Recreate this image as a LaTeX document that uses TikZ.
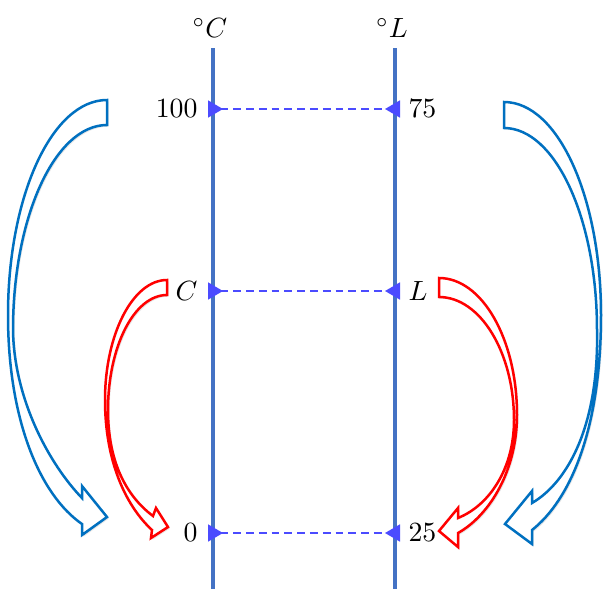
\documentclass[tikz,border=0pt]{standalone}
\usetikzlibrary{arrows.meta,shadows}

\definecolor{axisblue}{RGB}{68,114,196}
\definecolor{rungblue}{RGB}{75,75,255}
\definecolor{bandblue}{RGB}{0,112,192}
\definecolor{bandred}{RGB}{255,0,0}

\begin{document}
\begin{tikzpicture}[
  x=0.36pt, y=-0.36pt,
  axis/.style ={draw=axisblue,line width=1.3pt},
  rung/.style ={draw=rungblue,line width=0.7pt,dash pattern=on 2.8pt off 1.8pt,
                {Triangle[reversed,length=5.4pt,width=6.1pt]}-{Triangle[reversed,length=5.4pt,width=6.1pt]},
                shorten <=-1.8pt,shorten >=-1.8pt},
  val/.style  ={inner sep=2.5pt},
  unit/.style ={inner sep=0pt},
  band/.style ={line width=0.9pt,fill=white,miter limit=4,
                drop shadow={opacity=0.2,shadow xshift=0.6pt,shadow yshift=-0.6pt}},
]
\useasboundingbox (0,0) rectangle (603,589);

% ----------------------------------------------------------- curved block arrows
% outer blue, left: 100 -> 0
\draw[band,draw=bandblue] (107,100) -- (107,125)
  .. controls (55,125) and (13,217) .. (13,330)
  .. controls (14,400) and (50,465) .. (82,498)
  -- (82,486) -- (107,517) -- (82,535) -- (82,524)
  .. controls (40,495) and (8,420) .. (8,315)
  .. controls (8,196) and (52,100) .. (107,100) -- cycle;
% outer blue, right: 75 -> 25
\draw[band,draw=bandblue] (504,102) -- (504,128)
  .. controls (555,128) and (597,218) .. (597,330)
  .. controls (599,425) and (568,482) .. (532,503)
  -- (532,491) -- (505,524) -- (532,544) -- (532,530)
  .. controls (570,500) and (601,430) .. (601,315)
  .. controls (601,197) and (558,102) .. (504,102) -- cycle;
% inner red, left: C -> 0
\draw[band,draw=bandred] (167,280) -- (167,295)
  .. controls (134,295) and (108,347) .. (108,410)
  .. controls (108,460) and (125,495) .. (153,516)
  -- (156,508) -- (168,527) -- (151,538) -- (152,530)
  .. controls (125,505) and (105,460) .. (105,400)
  .. controls (105,334) and (133,280) .. (167,280) -- cycle;
% inner red, right: L -> 25
\draw[band,draw=bandred] (439,278) -- (439,297)
  .. controls (480,297) and (514,352) .. (514,420)
  .. controls (514,468) and (490,505) .. (458,518)
  -- (458,508) -- (439,531) -- (458,547) -- (458,533)
  .. controls (490,515) and (517,470) .. (517,415)
  .. controls (517,339) and (482,278) .. (439,278) -- cycle;

% ----------------------------------------------------------- the two scales
\coordinate (ctop) at (213,48);
\coordinate (cbot) at (213,589);
\coordinate (ltop) at (395,48);
\coordinate (lbot) at (395,589);
\draw[axis] (ctop) -- (cbot);
\draw[axis] (ltop) -- (lbot);
\node[unit] (cunit) at (210,28) {$^\circ C$};
\node[unit] (lunit) at (392,28) {$^\circ L$};

% ----------------------------------------------------------- matching readings
\foreach \k/\y/\cv/\lv in {0/109/100/75, 1/291/C/L, 2/533/0/25} {
  \coordinate (c\k) at (213,\y);
  \coordinate (l\k) at (395,\y);
  \draw[rung] (c\k) -- (l\k);
  \node[val,anchor=east] (cv\k) at (205,\y) {$\cv$};
  \node[val,anchor=west] (lv\k) at (401,\y) {$\lv$};
}

\end{tikzpicture}
\end{document}
